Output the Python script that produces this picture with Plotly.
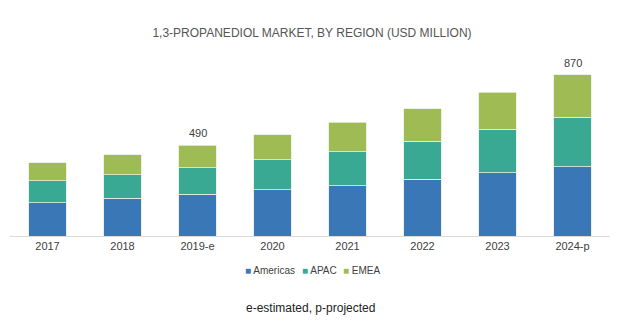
import plotly.graph_objects as go

years = ["2017", "2018", "2019-e", "2020", "2021", "2022", "2023", "2024-p"]
americas = [180, 204, 225, 249, 272, 306, 342, 373]
apac = [119, 128, 144, 162, 182, 207, 235, 269]
emea = [97, 108, 121, 137, 160, 175, 200, 228]
labelled_years = ["2019-e", "2024-p"]

colors = {"Americas": "#3a77b6", "APAC": "#3aa993", "EMEA": "#9fbb53"}
series = [("Americas", americas), ("APAC", apac), ("EMEA", emea)]
legend_x = [0.388, 0.484, 0.551]

fig = go.Figure()
for name, vals in series:
    fig.add_trace(go.Bar(
        x=years, y=vals, name=name,
        marker=dict(color=colors[name], line=dict(color="#e8efe0", width=0.8)),
    ))

totals = [a + b + c for a, b, c in zip(americas, apac, emea)]
for yr, tot in zip(years, totals):
    if yr in labelled_years:
        fig.add_annotation(x=yr, y=tot, text=str(tot), showarrow=False,
                           yanchor="bottom", yshift=4,
                           font=dict(size=11, color="#404040"))

# compact legend row: coloured square glyph followed by the series name
for (name, _), lx in zip(series, legend_x):
    fig.add_annotation(text=f'<span style="color:{colors[name]}">■</span> {name}',
                       xref="paper", yref="paper", x=lx, y=-0.188,
                       xanchor="left", yanchor="middle", showarrow=False,
                       font=dict(size=10, color="#404040"))

fig.add_annotation(text="e-estimated, p-projected", xref="paper", yref="paper",
                   x=0.5, y=-0.387, showarrow=False, yanchor="middle",
                   font=dict(size=12, color="#222222"))

fig.update_layout(
    width=624, height=323,
    barmode="stack", bargap=0.5,
    paper_bgcolor="white", plot_bgcolor="white",
    margin=dict(l=10, r=14, t=50, b=87),
    font=dict(family="Liberation Sans, Arial, sans-serif", color="#404040"),
    title=dict(text="1,3-PROPANEDIOL MARKET, BY REGION (USD MILLION)",
               x=0.5, xanchor="center", y=0.9, yanchor="middle",
               font=dict(size=12, color="#555555")),
    showlegend=False,
    xaxis=dict(showline=True, linecolor="#d9d9d9", linewidth=1, ticks="",
               tickfont=dict(size=11, color="#404040"), showgrid=False),
    yaxis=dict(range=[0, 1005], visible=False, showgrid=False),
)

fig.write_html("out.html")
